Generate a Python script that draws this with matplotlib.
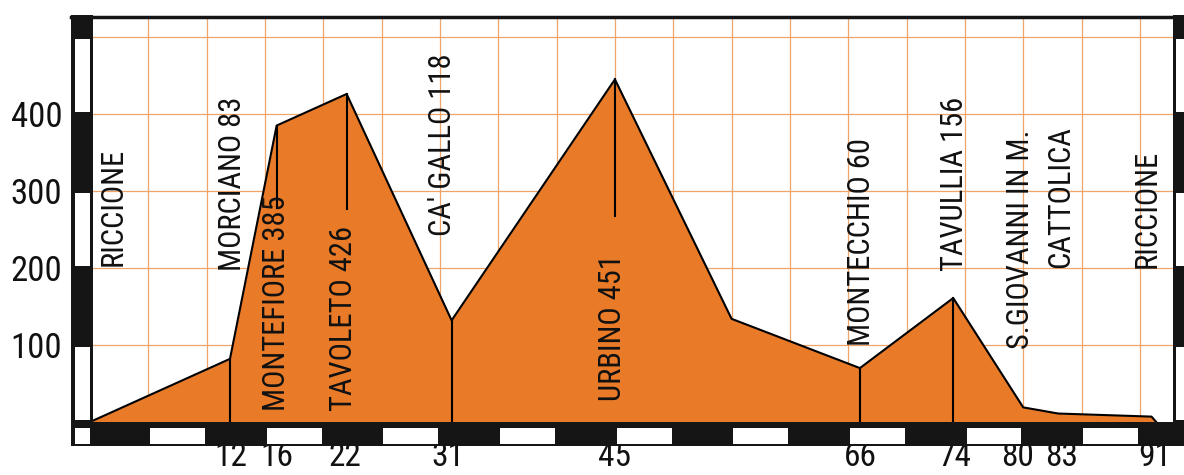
import matplotlib
matplotlib.use("Agg")
import matplotlib.pyplot as plt
from matplotlib.patches import Rectangle
from matplotlib import font_manager
from matplotlib.transforms import ScaledTranslation

# ---------------- data ----------------
profile_km = [0, 12, 16, 22, 31, 45, 55, 66, 74, 80, 83, 91, 91.4]
profile_elev = [0, 82, 385, 426, 132, 445, 134, 70, 161, 19, 11, 7, 0]

stop_names = ["RICCIONE", "MORCIANO 83", "MONTEFIORE 385", "TAVOLETO 426",
              "CA' GALLO 118", "URBINO 451", "MONTECCHIO 60", "TAVULLIA 156",
              "S.GIOVANNI IN M.", "CATTOLICA", "RICCIONE"]
stop_label_km = [2.0, 12.2, 16.0, 21.7, 30.2, 44.8, 66.1, 74.1, 79.8, 83.2, 90.6]
stop_label_bottom = [203, 196, 14, 14, 242, 27, 99, 196, 95, 200, 200]

# vertical marker lines: km, from elev, to elev
marker_km = [12, 16, 22, 31, 45, 66, 74]
marker_from = [0, 278, 277, 0, 268, 0, 0]
marker_to = [82, 385, 426, 132, 445, 70, 161]

km_ticks = [12, 16, 22, 31, 45, 66, 74, 80, 83, 91]
km_tick_labels = ["12", "16", "22", "31", "45", "66", "74", "80", "83", "91"]
elev_ticks = [100, 200, 300, 400]
elev_tick_labels = ["100", "200", "300", "400"]

# ---------------- style ----------------
ORANGE = "#E97A27"
GRID = "#EFA46A"
tick_label_shift_px = [1, 0, -2, -4, 0, 0, 2, -6, 3, 3]

avail = {(f.name, f.stretch) for f in font_manager.fontManager.ttflist}
names = {n for n, _ in avail}
if "Roboto Condensed" in names:
    FONT, STRETCH, LSIZE, TSIZE = ["Roboto Condensed", "DejaVu Sans"], "normal", 22, 24
elif "Liberation Sans Narrow" in names:
    FONT, STRETCH, LSIZE, TSIZE = ["Liberation Sans Narrow", "DejaVu Sans"], "normal", 20, 23
elif any(n == "DejaVu Sans" and s in ("condensed", "semi-condensed") for n, s in avail):
    FONT, STRETCH, LSIZE, TSIZE = ["DejaVu Sans"], "condensed", 17.5, 20
else:
    FONT, STRETCH, LSIZE, TSIZE = ["Liberation Sans", "DejaVu Sans"], "normal", 18.3, 20

W, H = 1184, 475
fig = plt.figure(figsize=(W / 100, H / 100), dpi=100)
fig.patch.set_facecolor("white")
ax = fig.add_axes([90 / W, 53 / H, (1173 - 90) / W, (422 - 17) / H])
XMAX, YMAX = 92.84, 526
ax.set_xlim(0, XMAX)
ax.set_ylim(0, YMAX)
for s in ax.spines.values():
    s.set_visible(False)

# grid
for k in range(5, 95, 5):
    ax.plot([k, k], [0, YMAX], color=GRID, lw=0.9, zorder=1)
for e in range(100, 600, 100):
    ax.plot([0, XMAX], [e, e], color=GRID, lw=0.9, zorder=1)

# profile
ax.fill_between(profile_km, profile_elev, 0, color=ORANGE, lw=0, zorder=2)
ax.plot(profile_km, profile_elev, color="black", lw=1.5, zorder=3)
for k, a, b in zip(marker_km, marker_from, marker_to):
    ax.plot([k, k], [a, b], color="black", lw=1.5, zorder=3)

# labels
for name, k, b in zip(stop_names, stop_label_km, stop_label_bottom):
    ax.text(k, b, name, rotation=90, ha="center", va="bottom",
            fontsize=LSIZE, family=FONT, stretch=STRETCH, color="#111111", zorder=4)

# ticks
ax.set_xticks(km_ticks)
ax.set_xticklabels(km_tick_labels, family=FONT, stretch=STRETCH, fontsize=TSIZE)
ax.set_yticks(elev_ticks)
ax.set_yticklabels(elev_tick_labels, family=FONT, stretch=STRETCH, fontsize=25)
ax.tick_params(axis="x", length=0, pad=13.5, colors="#111111")
ax.tick_params(axis="y", length=0, pad=20, colors="#111111")
for lbl, dx in zip(ax.get_xticklabels(), tick_label_shift_px):
    lbl.set_transform(lbl.get_transform() + ScaledTranslation(dx / 100, 0, fig.dpi_scale_trans))

# frame bars (black/white scale bars)
XL0, XL1 = -1.63, 0.26
XR0, XR1 = XMAX, 95.5
YB0 = -31
def rect(x0, y0, x1, y1, c):
    ax.add_patch(Rectangle((x0, y0), x1 - x0, y1 - y0, facecolor=c,
                           edgecolor="none", clip_on=False, zorder=5))

# bottom bar
rect(XL0, YB0, XR1, 0, "#151515")
for k in range(5, 95, 10):
    rect(k + 0.15, -28.5, k + 5 - 0.15, -8, "white")
rect(-1.29, -28.5, 0.0, -8, "white")
# left bar
rect(XL0, 0, XL1, YMAX + 2, "#151515")
for e in range(0, 500, 200):
    rect(-1.29, e + 3, 0.0, e + 97, "white")
# right bar
rect(XR0, 0, XR1, YMAX + 2, "#151515")
for e in range(0, 500, 200):
    rect(93.1, e + 3, XR1, e + 97, "white")
# top line
ax.plot([XL0, XR1], [YMAX, YMAX], color="#151515", lw=2.5, clip_on=False, zorder=5)

fig.savefig("out.png", dpi=100)
